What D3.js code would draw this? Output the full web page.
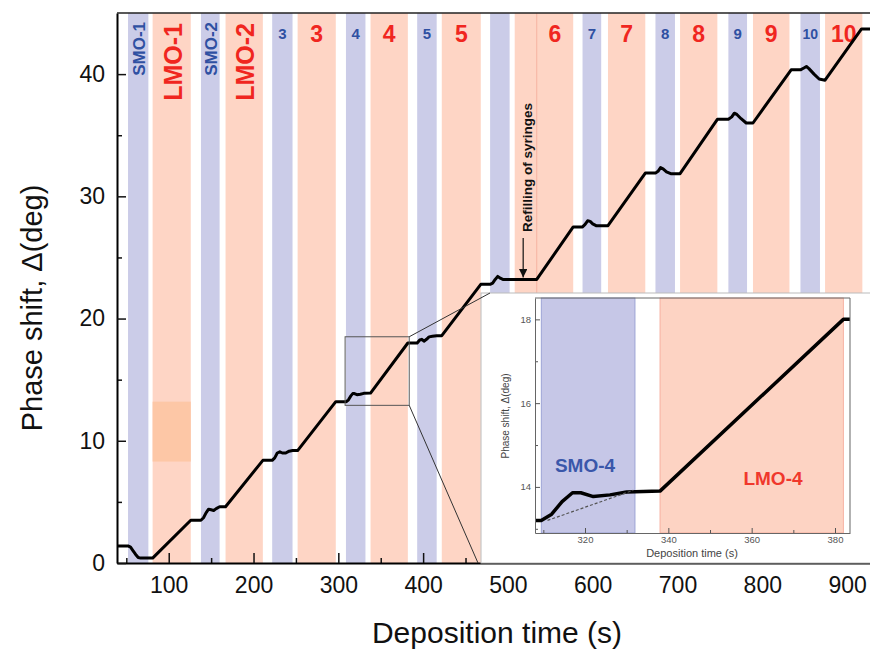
<!DOCTYPE html>
<html>
<head>
<meta charset="utf-8">
<script src="https://cdn.jsdelivr.net/npm/d3@7"></script>
<style>
  body { margin: 0; background: #fff; }
  svg { display: block; font-family: 'Liberation Sans', Arial, sans-serif; }
</style>
</head>
<body>
<div id="chart"></div>
<script>
// deposition cycles (s)
const smoStart = [52, 138, 222, 309, 393, 479, 588, 674, 760, 845];
const smoEnd   = [76, 160, 246, 332, 416, 502, 610, 697, 782, 868];
const lmoStart = [81, 167, 252, 338, 422, 508, 618, 703, 789, 874];
const lmoEnd   = [126, 211, 297, 382, 468, 577, 662, 747, 832, 918];
const smoLabels = ['SMO-1', 'SMO-2', '3', '4', '5', '', '7', '8', '9', '10'];
const lmoLabels = ['LMO-1', 'LMO-2', '3', '4', '5', '6', '7', '8', '9', '10'];
const refillEnd = 534;
const refillArrowTime = 518;

// phase shift trace
const time = [39, 52, 55, 58, 61, 64, 67, 81,
  126, 138, 141, 144, 147, 150, 153, 156, 160, 167,
  211, 222, 225, 228, 231, 234, 238, 242, 246, 252,
  297, 309.5, 312, 314.5, 317, 319, 322, 326, 330, 338,
  382, 393, 396, 398.5, 401, 404, 407, 411, 416, 422,
  468, 479, 482, 485, 488, 491, 494, 502, 534,
  577, 588, 591, 594, 597, 600, 604, 618,
  662, 674, 677, 680, 683, 687, 692, 703,
  747, 760, 764, 767, 770, 775, 781, 789,
  834, 845, 849, 852, 855, 861, 867, 874,
  917, 927];
const phase = [1.4, 1.4, 1.3, 1.0, 0.7, 0.45, 0.4, 0.4,
  3.5, 3.5, 3.7, 4.1, 4.4, 4.35, 4.3, 4.45, 4.6, 4.6,
  8.4, 8.4, 8.6, 9.0, 9.1, 9.0, 9.0, 9.15, 9.2, 9.2,
  13.2, 13.2, 13.35, 13.65, 13.86, 13.86, 13.77, 13.81, 13.88, 13.9,
  18.0, 18.0, 18.25, 18.3, 18.15, 18.3, 18.5, 18.55, 18.6, 18.6,
  22.8, 22.8, 22.9, 23.2, 23.45, 23.3, 23.2, 23.2, 23.2,
  27.5, 27.5, 27.7, 28.0, 27.95, 27.75, 27.6, 27.6,
  31.9, 31.9, 32.05, 32.35, 32.25, 32.0, 31.85, 31.85,
  36.3, 36.3, 36.5, 36.8, 36.7, 36.35, 36.0, 36.0,
  40.35, 40.35, 40.5, 40.62, 40.45, 40.0, 39.6, 39.5,
  43.7, 43.7];

// dotted baseline in the inset
const dashTime = [311, 331.6];
const dashPhase = [13.2, 13.92];

const xTicks = [100, 200, 300, 400, 500, 600, 700, 800, 900];
const yTicks = [0, 10, 20, 30, 40];
const insetXTicks = [320, 340, 360, 380];
const insetYTicks = [14, 16, 18];
const highlightRange = [8.3, 13.2];

const data = time.map((t, i) => ({ t: t, v: phase[i] }));

const W = 870, H = 654;
const margin = { top: 13, left: 117 };
const width = 753, height = 550;

const blueBand = '#cbcce8', redBand = '#fed5c5';
const blueText = '#2f50a2', redText = '#f0261f';

const svg = d3.select('#chart').append('svg')
  .attr('width', W).attr('height', H);

const g = svg.append('g')
  .attr('transform', `translate(${margin.left}, ${margin.top})`);

const x = d3.scaleLinear().domain([39, 927]).range([0, width]);
const y = d3.scaleLinear().domain([0, 45]).range([height, 0]);

// bands
const cycles = d3.range(smoStart.length);
g.selectAll('rect.smo').data(cycles).enter().append('rect')
  .attr('class', 'smo')
  .attr('x', i => x(smoStart[i]))
  .attr('width', i => x(smoEnd[i]) - x(smoStart[i]))
  .attr('y', 0).attr('height', height)
  .style('fill', blueBand);

g.selectAll('rect.lmo').data(cycles).enter().append('rect')
  .attr('class', 'lmo')
  .attr('x', i => x(lmoStart[i]))
  .attr('width', i => x(lmoEnd[i]) - x(lmoStart[i]))
  .attr('y', 0).attr('height', height)
  .style('fill', redBand);

g.append('line')
  .attr('x1', x(refillEnd)).attr('x2', x(refillEnd))
  .attr('y1', 0).attr('y2', height)
  .style('stroke', '#f6b3a3').style('stroke-width', 1);

g.append('rect')
  .attr('x', x(lmoStart[0]))
  .attr('width', x(lmoEnd[0]) - x(lmoStart[0]))
  .attr('y', y(highlightRange[1]))
  .attr('height', y(highlightRange[0]) - y(highlightRange[1]))
  .style('fill', '#fdc7a6');

// band labels
cycles.forEach(i => {
  const sx = x((smoStart[i] + smoEnd[i]) / 2);
  const lx = i === 5 ? x((refillEnd + lmoEnd[i]) / 2) : x((lmoStart[i] + lmoEnd[i]) / 2);
  if (i < 2) {
    g.append('text')
      .attr('transform', `translate(${sx + 1}, ${22 - margin.top}) rotate(-90)`)
      .attr('text-anchor', 'end').attr('dy', '0.36em')
      .style('font-size', '17px').style('font-weight', 'bold').style('fill', blueText)
      .text(smoLabels[i]);
    g.append('text')
      .attr('transform', `translate(${lx + 1}, ${23 - margin.top}) rotate(-90)`)
      .attr('text-anchor', 'end').attr('dy', '0.36em')
      .style('font-size', '25px').style('font-weight', 'bold').style('fill', redText)
      .text(lmoLabels[i]);
  } else {
    if (smoLabels[i]) {
      g.append('text')
        .attr('x', sx).attr('y', 34 - margin.top)
        .attr('text-anchor', 'middle').attr('dy', '0.36em')
        .style('font-size', smoLabels[i].length > 1 ? '14px' : '15px')
        .style('font-weight', 'bold').style('fill', blueText)
        .text(smoLabels[i]);
    }
    g.append('text')
      .attr('x', lx).attr('y', 34 - margin.top)
      .attr('text-anchor', 'middle').attr('dy', '0.36em')
      .style('font-size', '23px').style('font-weight', 'bold').style('fill', redText)
      .text(lmoLabels[i]);
  }
});

// refilling annotation
g.append('text')
  .attr('transform', `translate(${x(refillArrowTime) + 4}, ${232 - margin.top}) rotate(-90)`)
  .attr('dy', '0.36em')
  .style('font-size', '13.5px').style('font-weight', 'bold').style('fill', '#111')
  .text('Refilling of syringes');

svg.append('defs').append('marker')
  .attr('id', 'arrow').attr('viewBox', '0 0 10 10')
  .attr('refX', 10).attr('refY', 5)
  .attr('markerWidth', 7).attr('markerHeight', 7)
  .attr('orient', 'auto')
  .append('path').attr('d', 'M0,0 L10,5 L0,10 Z').style('fill', '#111');

g.append('line')
  .attr('x1', x(refillArrowTime)).attr('x2', x(refillArrowTime))
  .attr('y1', 238 - margin.top).attr('y2', y(23.2) - 2)
  .style('stroke', '#111').style('stroke-width', 1.2)
  .attr('marker-end', 'url(#arrow)');

// main trace
const line = d3.line()
  .x(d => x(d.t))
  .y(d => y(d.v));

g.append('path')
  .datum(data)
  .attr('d', line)
  .style('fill', 'none').style('stroke', '#000').style('stroke-width', 3)
  .style('stroke-linejoin', 'round');

// axes
g.append('g')
  .attr('transform', `translate(0, ${height})`)
  .call(d3.axisBottom(x).tickValues(d3.range(50, 927, 100)).tickSize(-5).tickFormat(''))
  .call(a => a.select('.domain').remove());

const xAxis = g.append('g')
  .attr('transform', `translate(0, ${height})`)
  .call(d3.axisBottom(x).tickValues(xTicks).tickSizeInner(-10).tickSizeOuter(0).tickPadding(14));

g.append('g')
  .call(d3.axisLeft(y).tickValues(d3.range(5, 45, 10)).tickSize(-5).tickFormat(''))
  .call(a => a.select('.domain').remove());

const yAxis = g.append('g')
  .call(d3.axisLeft(y).tickValues(yTicks).tickSizeInner(-9).tickSizeOuter(0).tickPadding(12));

[xAxis, yAxis].forEach(a => {
  a.selectAll('text').style('font-size', '23px').style('fill', '#111');
  a.select('.domain').style('stroke-width', 2);
});
g.selectAll('.tick line').style('stroke', '#111').style('stroke-width', 1.5);

g.append('line')
  .attr('x1', 0).attr('x2', width).attr('y1', 0).attr('y2', 0)
  .style('stroke', '#222').style('stroke-width', 1.5);

svg.append('text')
  .attr('x', 497).attr('y', 643)
  .attr('text-anchor', 'middle')
  .style('font-size', '30px').style('fill', '#111')
  .text('Deposition time (s)');

svg.append('text')
  .attr('transform', `translate(32, ${margin.top + height / 2 + 20}) rotate(-90)`)
  .attr('text-anchor', 'middle').attr('dy', '0.36em')
  .style('font-size', '29px').style('fill', '#111')
  .text('Phase shift, \u0394(deg)');

// inset
const ix = d3.scaleLinear().domain([308, 383.6]).range([535, 850]);
const iy = d3.scaleLinear().domain([12.9, 18.51]).range([533, 298]);

// zoom box on main plot
g.append('rect')
  .attr('x', x(ix.domain()[0])).attr('y', y(iy.domain()[1]))
  .attr('width', x(ix.domain()[1]) - x(ix.domain()[0]))
  .attr('height', y(iy.domain()[0]) - y(iy.domain()[1]))
  .style('fill', 'none').style('stroke', '#555').style('stroke-width', 1);

const panel = svg.append('g');
panel.append('rect')
  .attr('x', 481).attr('y', 293).attr('width', 400).attr('height', 270)
  .style('fill', '#fff').style('stroke', '#bbb');

svg.append('line')
  .attr('x1', margin.left + x(ix.domain()[1])).attr('y1', margin.top + y(iy.domain()[1]))
  .attr('x2', 490).attr('y2', 293)
  .style('stroke', '#333').style('stroke-width', 1);
svg.append('line')
  .attr('x1', margin.left + x(ix.domain()[1])).attr('y1', margin.top + y(iy.domain()[0]))
  .attr('x2', 478).attr('y2', 563)
  .style('stroke', '#333').style('stroke-width', 1);

panel.append('rect')
  .attr('x', ix(smoStart[3] + 0.5)).attr('width', ix(smoEnd[3]) - ix(smoStart[3] + 0.5))
  .attr('y', iy.range()[1]).attr('height', iy.range()[0] - iy.range()[1])
  .style('fill', '#c6c7e7').style('stroke', '#8f98d0').style('stroke-width', 0.8);
panel.append('rect')
  .attr('x', ix(lmoStart[3])).attr('width', ix(lmoEnd[3]) - ix(lmoStart[3]))
  .attr('y', iy.range()[1]).attr('height', iy.range()[0] - iy.range()[1])
  .style('fill', '#fdd3c3').style('stroke', '#f5a594').style('stroke-width', 0.8);

panel.append('text')
  .attr('x', 585).attr('y', 465).attr('text-anchor', 'middle').attr('dy', '0.36em')
  .style('font-size', '19px').style('font-weight', 'bold').style('fill', '#3a57aa')
  .text('SMO-4');
panel.append('text')
  .attr('x', 773).attr('y', 478).attr('text-anchor', 'middle').attr('dy', '0.36em')
  .style('font-size', '19px').style('font-weight', 'bold').style('fill', '#f0382c')
  .text('LMO-4');

panel.append('defs').append('clipPath').attr('id', 'insetClip')
  .append('rect')
  .attr('x', 535).attr('y', 298).attr('width', 315).attr('height', 235);

const insetLine = d3.line().x(d => ix(d.t)).y(d => iy(d.v));
panel.append('path')
  .datum(data.filter(d => d.t >= 297 && d.t <= 393))
  .attr('d', insetLine)
  .attr('clip-path', 'url(#insetClip)')
  .style('fill', 'none').style('stroke', '#000').style('stroke-width', 3.5)
  .style('stroke-linejoin', 'round');

panel.append('path')
  .datum(dashTime.map((t, i) => ({ t: t, v: dashPhase[i] })))
  .attr('d', d3.line().x(d => ix(d.t)).y(d => iy(d.v)))
  .style('fill', 'none').style('stroke', '#555').style('stroke-width', 1.2)
  .style('stroke-dasharray', '3,2');

panel.append('g')
  .attr('transform', 'translate(0, 533)')
  .call(d3.axisBottom(ix).tickValues([310, 330, 350, 370]).tickSize(-3).tickFormat(''))
  .call(a => a.select('.domain').remove());
const ixAxis = panel.append('g')
  .attr('transform', 'translate(0, 533)')
  .call(d3.axisBottom(ix).tickValues(insetXTicks).tickFormat(d3.format('d'))
    .tickSizeInner(-5).tickSizeOuter(0).tickPadding(3));
panel.append('g')
  .attr('transform', 'translate(535, 0)')
  .call(d3.axisLeft(iy).tickValues([13, 15, 17]).tickSize(-3).tickFormat(''))
  .call(a => a.select('.domain').remove());
const iyAxis = panel.append('g')
  .attr('transform', 'translate(535, 0)')
  .call(d3.axisLeft(iy).tickValues(insetYTicks).tickFormat(d3.format('d'))
    .tickSizeInner(-5).tickSizeOuter(0).tickPadding(4));

[ixAxis, iyAxis].forEach(a => {
  a.selectAll('text').style('font-size', '9.5px').style('fill', '#555');
});
panel.selectAll('.tick line').style('stroke', '#555');
panel.selectAll('.domain').style('stroke', '#666');

panel.append('line').attr('x1', 535).attr('x2', 850).attr('y1', 298).attr('y2', 298)
  .style('stroke', '#666');
panel.append('line').attr('x1', 850).attr('x2', 850).attr('y1', 298).attr('y2', 533)
  .style('stroke', '#666');

panel.append('text')
  .attr('x', 692).attr('y', 557).attr('text-anchor', 'middle')
  .style('font-size', '11px').style('fill', '#444')
  .text('Deposition time (s)');
panel.append('text')
  .attr('transform', 'translate(505, 416) rotate(-90)')
  .attr('text-anchor', 'middle').attr('dy', '0.36em')
  .style('font-size', '10px').style('fill', '#444')
  .text('Phase shift, \u0394(deg)');
</script>
</body>
</html>
